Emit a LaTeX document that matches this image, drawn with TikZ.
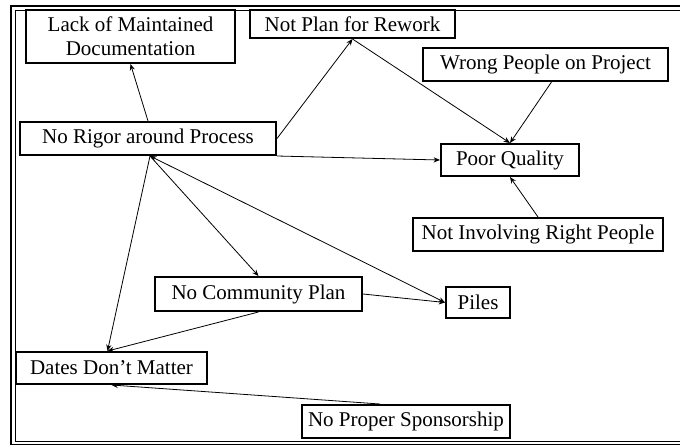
\documentclass[tikz,border=0pt]{standalone}
\usepackage{fontspec}
\setmainfont{Liberation Serif}
\usetikzlibrary{arrows.meta}
\tikzset{
  bx/.style={draw, line width=1pt, inner sep=0pt, align=center, font=\fontsize{10.5}{12}\selectfont},
  conn/.style={line width=0.4pt, -{Stealth[length=3.2pt,width=2.6pt]}},
  conn2/.style={line width=0.4pt, {Stealth[length=3.2pt,width=2.6pt]}-{Stealth[length=3.2pt,width=2.6pt]}},
  frm/.style={line width=0.6pt}
}
\begin{document}
\begin{tikzpicture}[x=0.5pt,y=-0.5pt]
\useasboundingbox (0,0) rectangle (680,445);
\clip (0,0) rectangle (680,445);
\draw[frm] (11,6) rectangle (700,444.5);
\draw[frm] (15.5,10.5) rectangle (695,441.5);

\node[bx, minimum width=104.5pt, minimum height=26.5pt] (lack) at (130.5,36.5) {Lack of Maintained\\Documentation};
\node[bx, minimum width=102.5pt, minimum height=14pt] (rework) at (352.5,24) {Not Plan for Rework};
\node[bx, minimum width=122.5pt, minimum height=16.5pt] (wrong) at (545.5,64.5) {Wrong People on Project};
\node[bx, minimum width=128pt, minimum height=16.5pt] (rigor) at (148,138.5) {No Rigor around Process};
\node[bx, minimum width=69pt, minimum height=16pt] (poor) at (510,160) {Poor Quality};
\node[bx, minimum width=125pt, minimum height=16.5pt] (involving) at (538,234.5) {Not Involving Right People};
\node[bx, minimum width=32pt, minimum height=15.5pt] (piles) at (478,302.5) {Piles};
\node[bx, minimum width=103.5pt, minimum height=17pt] (community) at (258.5,294) {No Community Plan};
\node[bx, minimum width=95.5pt, minimum height=16pt] (dates) at (111.5,368) {Dates Don’t Matter};
\node[bx, minimum width=104pt, minimum height=16.5pt] (sponsor) at (406,421.5) {No Proper Sponsorship};

\coordinate (r0) at ([xshift=1pt]rigor.south);
\coordinate (d0) at ([xshift=-2pt]dates.north);

\draw[conn] (rigor.north) -- (lack.south);
\draw[conn] (rigor.east) -- (rework.south);
\draw[conn] (rework.south) -- (poor.north);
\draw[conn] ([xshift=3pt]wrong.south) -- (poor.north);
\draw[conn] (rigor.south east) -- (poor.west);
\draw[conn] (involving.north) -- (poor.south);
\draw[conn] (r0) -- (community.north);
\draw[conn2] (r0) -- (piles.west);
\draw[conn] (r0) -- (d0);
\draw[conn] (community.east) -- (piles.west);
\draw[conn] (community.south) -- (d0);
\draw[conn] ([xshift=-13pt]sponsor.north) -- (dates.south);
\end{tikzpicture}
\end{document}
